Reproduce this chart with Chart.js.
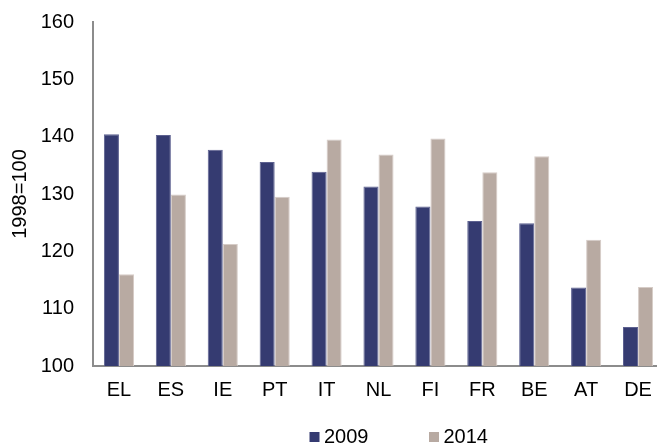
<!DOCTYPE html>
<html>
<head>
<meta charset="utf-8">
<script src="https://cdn.jsdelivr.net/npm/chart.js@4/dist/chart.umd.min.js"></script>
<style>
  html, body { margin: 0; padding: 0; background: #fff; overflow: hidden; }
  #wrap { width: 665px; height: 446px; }
</style>
</head>
<body>
<div id="wrap"><canvas id="c" width="665" height="446"></canvas></div>
<script>
const categories = ['EL', 'ES', 'IE', 'PT', 'IT', 'NL', 'FI', 'FR', 'BE', 'AT', 'DE'];
const seriesNames = ['2009', '2014'];
const values2009 = [140.4, 140.3, 137.7, 135.6, 133.9, 131.3, 127.8, 125.3, 124.9, 113.7, 106.8];
const values2014 = [116.0, 129.9, 121.3, 129.5, 139.5, 136.9, 139.7, 133.8, 136.6, 122.0, 113.8];
const yTitle = '1998=100';

const FONT = '"Liberation Sans", Arial, sans-serif';

const customLegend = {
  id: 'customLegend',
  afterDraw(chart) {
    const ctx = chart.ctx;
    const items = [
      { x: 309.5, textX: 324 },
      { x: 429, textX: 443.5 }
    ];
    const cy = 437;
    ctx.save();
    ctx.font = '20px ' + FONT;
    ctx.textBaseline = 'middle';
    ctx.textAlign = 'left';
    chart.data.datasets.forEach((ds, i) => {
      const it = items[i];
      ctx.fillStyle = ds.backgroundColor;
      ctx.fillRect(it.x, cy - 5, 10, 10);
      ctx.fillStyle = '#000';
      ctx.fillText(ds.label, it.textX, cy);
    });
    ctx.restore();
  }
};

new Chart(document.getElementById('c'), {
  type: 'bar',
  data: {
    labels: categories,
    datasets: [
      { label: seriesNames[0], data: values2009, backgroundColor: '#353B71', borderColor: '#5d6190', borderWidth: 1, borderSkipped: 'bottom' },
      { label: seriesNames[1], data: values2014, backgroundColor: '#B8AAA2', borderColor: '#d6ccc7', borderWidth: 1, borderSkipped: 'bottom' }
    ]
  },
  options: {
    responsive: false,
    animation: false,
    layout: { padding: { top: 22, right: 1, bottom: 36, left: 0 } },
    datasets: { bar: { categoryPercentage: 0.58, barPercentage: 1.0 } },
    plugins: {
      legend: { display: false },
      tooltip: { enabled: false }
    },
    scales: {
      x: {
        grid: { display: false, drawTicks: false },
        border: { display: true, color: '#8c8c8c', width: 2 },
        ticks: { color: '#000', font: { family: FONT, size: 20 }, padding: 12, maxRotation: 0, autoSkip: false },
        afterFit(scale) { scale.height = 44; scale.paddingLeft = 0; scale.paddingRight = 0; }
      },
      y: {
        min: 100, max: 160,
        grid: { display: false, drawTicks: false },
        border: { display: true, color: '#8c8c8c', width: 2 },
        ticks: { stepSize: 10, color: '#000', font: { family: FONT, size: 20 }, padding: 19 },
        title: { display: true, text: yTitle, color: '#000', font: { family: FONT, size: 20 }, padding: { top: 8, bottom: 0 } },
        afterFit(scale) { scale.width = 93; scale.paddingTop = 10; scale.paddingBottom = 0; }
      }
    }
  },
  plugins: [customLegend]
});
</script>
</body>
</html>
